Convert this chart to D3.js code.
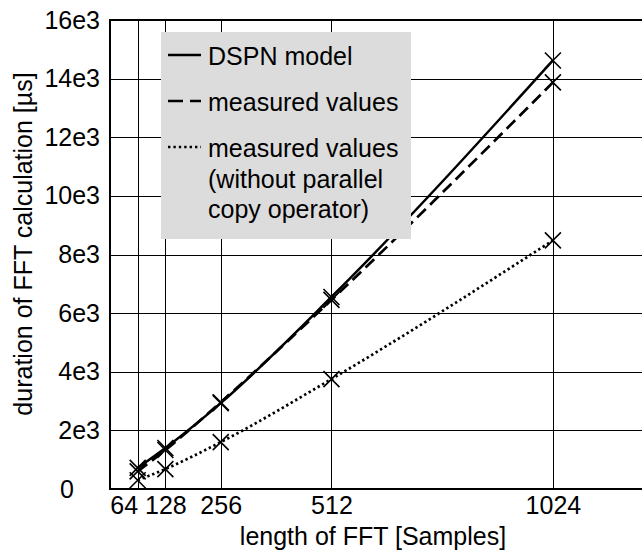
<!DOCTYPE html>
<html lang="en">
  <head>
    <meta charset="utf-8">
    <script src="https://d3js.org/d3.v7.min.js"></script>
    <title>FFT duration</title>
    <style>
      body { margin: 0; background: #fff; }
      svg { display: block; font-family: "Liberation Sans", Arial, sans-serif; }
      .grid line { stroke: #000; stroke-width: 1; shape-rendering: crispEdges; }
      .tick text { font-size: 25px; fill: #000; font-family: "Liberation Sans", Arial, sans-serif; }
    </style>
  </head>
  <body>
    <div id="chart"></div>
    <script>
      const fftLengths = [64, 128, 256, 512, 1024];
      const dspnModel = [720, 1400, 2930, 6550, 14620];
      const measured = [600, 1330, 2960, 6450, 13870];
      const measuredNoCopy = [300, 680, 1600, 3750, 8480];
      const yTicks = [0, 2000, 4000, 6000, 8000, 10000, 12000, 14000, 16000];
      const yTickLabels = ['0', '2e3', '4e3', '6e3', '8e3', '10e3', '12e3', '14e3', '16e3'];
      const legendLabels = [['DSPN model'], ['measured values'], ['measured values', '(without parallel', 'copy operator)']];

      const width = 642, height = 554;
      const plot = {left: 110, right: 642, top: 20, bottom: 489};

      const svg = d3.select('#chart').append('svg')
        .attr('width', width)
        .attr('height', height);

      const x = d3.scaleLinear().domain([0, 1230]).range([plot.left, plot.right]);
      const y = d3.scaleLinear().domain([0, 16000]).range([plot.bottom, plot.top]);

      // grid
      const grid = svg.append('g').attr('class', 'grid');
      grid.selectAll('.vg').data(fftLengths).enter().append('line')
        .attr('x1', d => Math.round(x(d)) + 0.5).attr('x2', d => Math.round(x(d)) + 0.5)
        .attr('y1', plot.top).attr('y2', plot.bottom);
      grid.selectAll('.hg').data(yTicks).enter().append('line')
        .attr('x1', plot.left).attr('x2', plot.right)
        .attr('y1', d => Math.round(y(d)) + 0.5).attr('y2', d => Math.round(y(d)) + 0.5);

      // axes
      const xAxis = d3.axisBottom(x).tickValues(fftLengths).tickSize(0).tickPadding(7)
        .tickFormat(d => String(d));
      const yAxis = d3.axisLeft(y).tickValues(yTicks).tickSize(0).tickPadding(10)
        .tickFormat((d, i) => yTickLabels[i]);

      svg.append('g')
        .attr('transform', 'translate(0,' + plot.bottom + ')')
        .call(xAxis)
        .call(g => g.select('.domain').remove())
        .call(g => g.selectAll('.tick text')
          .filter(d => d === 64)
          .attr('text-anchor', 'end'));
      svg.append('g')
        .attr('transform', 'translate(' + plot.left + ',0)')
        .call(yAxis)
        .call(g => g.select('.domain').remove())
        .call(g => g.selectAll('.tick text')
          .filter(d => d === 0)
          .attr('text-anchor', 'middle')
          .attr('dx', -33));

      // frame lines (left, bottom, top)
      svg.append('line').attr('x1', plot.left).attr('x2', plot.left)
        .attr('y1', plot.top - 1).attr('y2', plot.bottom + 1)
        .attr('stroke', '#000').attr('stroke-width', 2);
      svg.append('line').attr('x1', plot.left - 1).attr('x2', plot.right)
        .attr('y1', plot.bottom).attr('y2', plot.bottom)
        .attr('stroke', '#000').attr('stroke-width', 2);
      svg.append('line').attr('x1', plot.left - 1).attr('x2', plot.right)
        .attr('y1', plot.top).attr('y2', plot.top)
        .attr('stroke', '#000').attr('stroke-width', 2);

      // axis titles
      svg.append('text')
        .attr('x', 373).attr('y', 545)
        .attr('text-anchor', 'middle')
        .style('font-size', '25px')
        .text('length of FFT [Samples]');
      svg.append('text')
        .attr('transform', 'translate(32,244) rotate(-90)')
        .attr('text-anchor', 'middle')
        .style('font-size', '25px')
        .text('duration of FFT calculation [µs]');

      // series
      const series = [
        {values: dspnModel, dash: null, width: 2.5},
        {values: measured, dash: '12,6', width: 2.7},
        {values: measuredNoCopy, dash: '2.4,2.8', width: 2.7}
      ];
      const line = d3.line()
        .x((d, i) => x(fftLengths[i]))
        .y(d => y(d))
        .curve(d3.curveMonotoneX);

      series.forEach(s => {
        svg.append('path')
          .datum(s.values)
          .attr('d', line)
          .attr('fill', 'none')
          .attr('stroke', '#000')
          .attr('stroke-width', s.width)
          .attr('stroke-dasharray', s.dash);
        const m = 8;
        svg.append('g').selectAll('path').data(s.values).enter().append('path')
          .attr('d', (d, i) => {
            const cx = x(fftLengths[i]), cy = y(d);
            return `M${cx - m},${cy - m}L${cx + m},${cy + m}M${cx - m},${cy + m}L${cx + m},${cy - m}`;
          })
          .attr('stroke', '#000')
          .attr('stroke-width', 1.6)
          .attr('fill', 'none');
      });

      // legend
      const legend = svg.append('g');
      legend.append('rect')
        .attr('x', 161).attr('y', 32).attr('width', 250).attr('height', 207)
        .attr('fill', '#dcdcdc');
      const rowY = [55, 101, 147];
      const legendDash = [null, '15,7', '2.4,3'];
      series.forEach((s, i) => {
        legend.append('line')
          .attr('x1', 168).attr('x2', 201)
          .attr('y1', rowY[i]).attr('y2', rowY[i])
          .attr('stroke', '#000')
          .attr('stroke-width', s.width)
          .attr('stroke-dasharray', legendDash[i]);
        legendLabels[i].forEach((t, j) => {
          legend.append('text')
            .attr('x', 208).attr('y', rowY[i] + 10 + j * 30.5)
            .style('font-size', '25px')
            .text(t);
        });
      });
    </script>
  </body>
</html>
